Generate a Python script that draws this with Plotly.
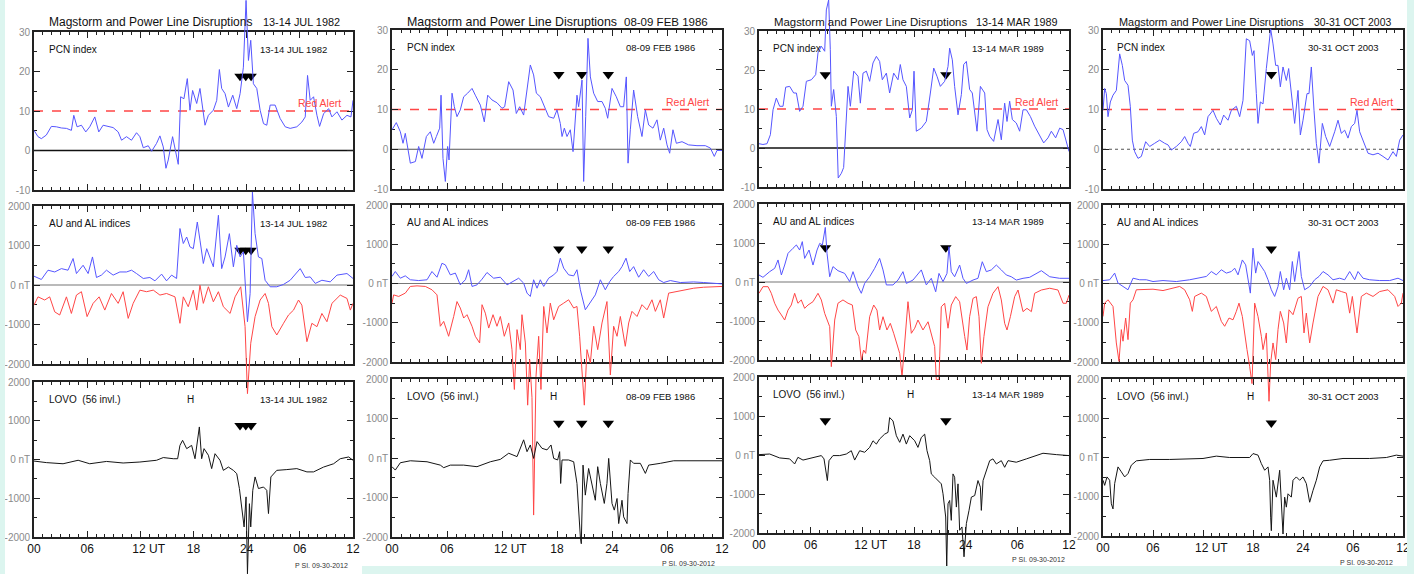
import plotly.graph_objects as go

W, H = 1414, 574

# ---------------- data (hours from 00 UT of first day, value) ----------------
dates = ["13-14 JUL 1982", "08-09 FEB 1986", "13-14 MAR 1989", "30-31 OCT 2003"]

x_tickvals = [0, 6, 12, 18, 24, 30, 36]
x_ticktext = ["00", "06", "\u00a0\u00a0\u00a0\u00a0\u00a012 UT", "18", "24", "06", "12"]
pcn_tickvals = [-10, 0, 10, 20, 30]
pcn_ticktext = ["-10", "0", "10", "20", "30"]
nt_tickvals = [-2000, -1000, 0, 1000, 2000]
nt_ticktext = ["-2000", "-1000", "0 nT", "1000", "2000"]
red_alert_level = 10

events_1982 = [23.25, 23.9, 24.5]
events_1986 = [18.2, 20.7, 23.6]
events_1989 = [7.7, 21.7]
events_2003 = [20.2]

pcn_1982 = [(0,5.1),(0.45,3.5),(0.83,3.0),(1.39,3.9),(1.96,6.1),(2.53,6.0),(3.09,5.7),(3.66,5.6),(4.22,5.1),(4.49,8.9),
            (4.86,6.0),(5.35,6.4),(5.84,4.7),(6.29,6.0),(6.86,8.5),(7.31,4.7),(7.8,6.4),(8.37,6.0),(8.93,5.8),(9.5,4.7),
            (9.88,2.6),(10.44,3.5),(11.0,2.6),(11.57,4.5),(11.95,3.5),(12.33,0.7),(12.89,1.2),(13.27,-0.2),(13.83,1.8),(14.21,3.7),
            (14.59,0.9),(14.89,-4.5),(15.15,-2.4),(15.64,3.5),(15.91,0.9),(16.28,-3.5),(16.55,13.6),(16.92,13.1),(17.3,18.2),(17.6,10.2),
            (17.9,15.2),(18.36,11.9),(18.73,15.7),(19.03,10.2),(19.3,6.4),(19.68,8.9),(20.24,10.2),(20.62,12.7),(20.92,20.5),(21.18,15.7),
            (21.56,14.4),(21.94,11.0),(22.43,14.0),(22.88,10.6),(23.26,14.4),(23.63,21.1),(23.93,38),(24.2,22.8),(24.46,27.9),(24.76,16.9),
            (25.14,15.7),(25.52,10.2),(25.9,6.8),(26.27,6.4),(26.65,11.5),(27.21,11.5),(27.78,8.1),(28.35,6.0),(28.91,5.6),(29.66,6.0),
            (30.23,7.2),(30.61,8.5),(30.87,19.0),(31.17,12.7),(31.55,13.6),(31.93,8.9),(32.23,6.1),(32.68,9.3),(33.25,10.6),(33.62,8.5),
            (34.19,9.8),(34.75,7.7),(35.32,8.9),(35.77,8.5),(36,12.7)]

au_1982 = [(0,223),(0.83,140),(1.58,375),(2.34,330),(3.09,415),(3.84,375),(4.41,670),(4.79,290),(5.54,500),(6.11,290),
           (6.6,710),(7.05,190),(7.61,250),(8.18,375),(8.93,250),(9.69,330),(10.44,330),(11.01,375),(11.57,290),(12.33,165),
           (13.08,190),(13.65,105),(14.4,275),(14.96,105),(15.53,250),(16.09,165),(16.47,1430),(16.85,1050),(17.23,1215),(17.6,965),
           (17.98,920),(18.43,1595),(18.73,1135),(19.11,545),(19.49,920),(19.86,710),(20.24,460),(20.81,1765),(21.18,415),(21.56,710),
           (22.05,1300),(22.5,460),(22.88,1005),(23.26,710),(23.63,840),(24.09,-930),(24.39,-215),(24.65,2350),(24.95,1300),(25.33,710),
           (25.71,670),(26.08,120),(26.65,-45),(27.4,-45),(28.16,15),(28.91,120),(30.04,415),(30.61,190),(31.17,205),(31.74,40),
           (32.49,120),(33.43,80),(34.19,250),(35.32,290),(36,165)]

al_1982 = [(0,-510),(0.45,-300),(1.21,-380),(1.77,-300),(2.34,-680),(2.9,-760),(3.66,-300),(4.22,-720),(4.79,-255),(5.35,-170),
           (5.99,-800),(6.67,-465),(7.35,-300),(7.99,-635),(8.74,-215),(9.5,-465),(10.06,-170),(10.63,-845),(11.19,-465),(11.95,-130),
           (12.7,-170),(13.46,-130),(14.21,-255),(14.96,-215),(15.91,-300),(16.47,-970),(16.85,-300),(17.41,-550),(17.98,-130),(18.36,-635),
           (18.73,-5),(19.11,-465),(19.68,-45),(20.24,-425),(20.81,-170),(21.37,-550),(22.13,-720),(22.69,-300),(23.33,-45),(23.82,-1055),
           (24.09,-2750),(24.46,-1475),(24.95,-800),(25.52,-380),(26.08,-215),(26.46,-465),(26.84,-1055),(27.4,-1265),(28.16,-970),(28.72,-760),
           (29.29,-635),(29.85,-380),(30.23,-510),(30.8,-1435),(31.36,-970),(31.93,-1055),(32.49,-720),(33.06,-930),(33.62,-465),(34.56,-255),
           (35.32,-340),(35.7,-635),(36,-465)]

lovo_1982 = [(0,-40),(1.39,-80),(3.28,-110),(4.98,-20),(6.29,-110),(8.18,-50),(10.06,-90),(11.95,-65),(13.83,-20),(14.59,50),
             (15.72,20),(16.21,20),(16.47,365),(16.77,495),(17.23,280),(17.79,365),(18.17,20),(18.43,540),(18.66,840),(18.92,20),
             (19.19,280),(19.68,110),(20.05,-235),(20.43,150),(20.99,-20),(21.37,-280),(21.94,-195),(22.5,-280),(22.88,-365),(23.18,-750),
             (23.45,-1225),(23.71,-1740),(23.93,-965),(24.09,-2950),(24.31,-1140),(24.46,-1740),(24.69,-795),(24.95,-450),(25.33,-750),(25.9,-710),
             (26.27,-795),(26.46,-1395),(26.73,-450),(27.4,-280),(28.53,-260),(29.66,-235),(30.8,-320),(31.55,-320),(32.68,-195),(33.81,-110),
             (34.56,20),(35.51,65),(36,-20)]

pcn_1986 = [(0,4.9),(0.47,6.7),(0.91,4.4),(1.2,1.5),(1.45,4.0),(2.0,-3.5),(2.55,-3.1),(2.91,0.7),(3.27,-2.3),(3.75,3.2),
            (4.18,4.4),(4.55,1.5),(4.84,3.2),(5.2,5.3),(5.35,13.6),(5.56,-2.3),(5.82,-8.1),(6.07,0.7),(6.22,-2.7),(6.55,14.1),
            (6.8,10.7),(7.09,8.2),(7.45,9.9),(7.82,13.2),(8.25,14.1),(8.73,15.3),(9.09,13.6),(9.64,11.1),(10.07,6.9),(10.44,13.6),
            (10.91,12.4),(11.45,11.7),(12.0,10.3),(12.29,10.7),(12.73,17.0),(13.2,14.9),(13.56,9.0),(13.93,10.7),(14.36,8.6),(14.73,14.9),
            (15.09,21.2),(15.45,18.7),(15.75,14.1),(16.18,13.2),(16.62,10.7),(17.09,8.2),(17.64,7.8),(18.0,9.9),(18.36,6.5),(18.55,3.2),
            (18.8,5.3),(19.09,3.2),(19.45,4.9),(19.75,-0.6),(20.18,13.6),(20.36,10.7),(20.73,17.4),(20.91,-8.1),(21.13,8.2),(21.38,27.9),
            (21.64,18.2),(22.0,14.1),(22.44,12.0),(22.91,12.0),(23.27,10.3),(23.53,7.8),(24.0,15.3),(24.47,13.2),(24.91,10.7),(25.27,10.7),
            (25.56,18.2),(25.75,-3.5),(26.0,4.9),(26.36,14.9),(26.8,8.2),(27.27,3.2),(27.64,9.9),(28.0,6.1),(28.47,5.3),(28.91,7.4),
            (29.27,2.3),(29.64,5.3),(30.0,1.1),(30.29,-1.0),(30.65,4.9),(31.02,1.5),(31.64,1.9),(32.36,1.1),(33.27,0.9),(34.18,0.9),
            (34.73,0.3),(35.16,-1.8),(35.45,-0.3),(36,-0.3)]

au_1986 = [(0,180),(0.36,305),(0.91,135),(1.45,195),(2.0,95),(2.91,75),(3.82,95),(4.36,305),(4.91,160),(5.45,515),
           (5.82,475),(6.36,220),(6.91,265),(7.45,-35),(8.0,95),(8.36,350),(8.73,-75),(9.27,-35),(9.82,110),(10.36,280),
           (11.09,135),(11.82,160),(12.55,-35),(13.27,50),(13.82,135),(14.36,10),(14.73,-245),(15.09,-330),(15.45,95),(15.82,-120),
           (16.18,95),(16.55,-75),(17.09,135),(17.64,220),(18.0,305),(18.36,645),(18.73,390),(19.27,220),(19.82,195),(20.18,350),
           (20.55,-160),(21.09,-670),(21.64,-460),(22.18,-290),(22.73,95),(23.27,-160),(23.75,50),(24.18,180),(24.73,305),(25.09,430),
           (25.53,645),(25.93,305),(26.36,430),(26.91,160),(27.45,350),(28.0,180),(28.55,305),(29.09,95),(29.64,25),(30.36,75),
           (31.45,25),(32.91,40),(34.0,25),(35.09,0),(36,-10)]

al_1986 = [(0,-500),(0.18,-290),(0.73,-330),(1.45,-245),(2.0,-75),(2.73,-60),(3.64,-75),(4.36,-160),(4.91,-290),(5.27,-1090),
           (5.64,-965),(6.18,-1345),(6.73,-840),(7.09,-460),(7.45,-625),(7.82,-880),(8.18,-795),(8.73,-1090),(9.09,-1345),(9.56,-1515),
           (9.82,-540),(10.18,-755),(10.55,-1135),(11.02,-795),(11.45,-1090),(11.82,-840),(12.25,-1345),(12.73,-1005),(13.09,-1685),(13.35,-2700),
           (13.64,-1175),(14.0,-1685),(14.18,-795),(14.55,-1515),(14.8,-3100),(15.02,-1940),(15.27,-2900),(15.45,-5900),(15.71,-2365),(16.0,-1345),
           (16.25,-2700),(16.55,-585),(16.91,-1260),(17.27,-500),(17.64,-925),(18.18,-585),(18.73,-500),(19.27,-415),(19.82,-625),(20.18,-585),
           (20.47,-1345),(20.73,-2235),(20.98,-3100),(21.27,-1685),(21.64,-2025),(22.0,-1090),(22.44,-1685),(22.91,-1005),(23.45,-460),(23.82,-2330),
           (24.18,-1090),(24.55,-1345),(24.91,-840),(25.45,-1600),(25.82,-1005),(26.18,-710),(26.73,-840),(27.27,-540),(27.82,-670),(28.36,-415),
           (28.73,-710),(29.27,-415),(29.64,-880),(30.18,-245),(31.09,-205),(32.0,-160),(32.91,-120),(34.0,-95),(35.09,-75),(36,-75)]

lovo_1986 = [(0,-220),(0.36,-305),(0.91,-120),(2.0,-70),(3.82,-95),(5.27,-180),(5.64,-245),(6.36,-180),(7.82,-180),(9.27,-220),
             (10.73,-95),(11.82,-35),(12.73,120),(13.64,35),(14.36,460),(14.73,160),(15.09,330),(15.45,-10),(15.82,415),(16.36,245),
             (16.91,205),(17.35,330),(17.64,-10),(18.07,-50),(18.29,160),(18.4,-645),(18.55,-50),(19.27,-50),(19.82,-95),(20.18,-645),
             (20.55,-2000),(20.65,-2170),(20.84,-180),(21.09,-940),(21.45,-265),(21.82,-685),(22.18,-1070),(22.44,-220),(22.73,-645),(23.16,-1150),
             (23.45,-645),(23.64,-10),(23.82,-475),(24.0,-1150),(24.25,-1320),(24.55,-1025),(24.73,-1660),(25.09,-1070),(25.27,-1490),(25.64,-1660),
             (25.75,-900),(26.0,-50),(26.36,-135),(27.09,-135),(27.64,-390),(28.0,-180),(29.27,-135),(30.73,-70),(32.18,-70),(34.0,-70),
             (36,-70)]

pcn_1989 = [(0,1.1),(0.46,0.9),(0.93,1.1),(1.32,3.4),(1.63,9.8),(2.01,12.8),(2.4,10.7),(2.79,10.7),(3.1,15.6),(3.56,15.8),
            (4.03,14.1),(4.34,14.1),(4.72,9.4),(5.11,10.7),(5.5,17.1),(6.08,17.5),(6.58,18.8),(6.85,24.4),(7.24,26.1),(7.63,24.8),
            (7.82,35.4),(8.09,38),(8.28,25.2),(8.4,10.7),(8.67,15.0),(8.98,8.1),(9.2,-7.7),(9.56,-6.5),(9.83,-5.0),(10.07,5.6),
            (10.34,15.8),(10.61,10.7),(11.0,19.7),(11.5,18.4),(11.77,11.5),(12.08,19.2),(12.47,19.7),(12.85,17.1),(13.24,21.8),(13.63,23.5),
            (14.01,22.2),(14.32,17.5),(14.79,19.2),(15.17,14.1),(15.64,19.2),(16.14,17.5),(16.41,21.4),(16.72,17.5),(17.11,15.8),(17.5,7.7),
            (17.81,9.8),(18.0,19.7),(18.27,4.3),(18.85,5.1),(19.43,6.8),(19.9,14.1),(20.29,20.5),(20.67,18.4),(21.06,15.8),(21.56,17.1),
            (21.95,20.9),(22.14,25.6),(22.45,22.6),(22.72,15.8),(23.11,8.5),(23.5,13.7),(23.77,21.4),(24.08,22.2),(24.46,15.0),(24.77,14.1),
            (25.05,8.5),(25.32,4.3),(25.71,15.8),(26.21,14.1),(26.48,4.7),(26.79,3.0),(27.25,1.7),(27.76,7.3),(28.14,2.1),(28.53,11.5),
            (28.8,6.8),(29.11,12.0),(29.42,7.3),(29.88,6.4),(30.27,4.3),(30.66,9.8),(31.05,9.8),(31.51,8.1),(32.01,5.6),(32.59,3.0),
            (33.06,1.3),(33.56,2.6),(33.95,4.3),(34.45,2.6),(34.92,5.1),(35.31,4.7),(35.69,1.3),(36,-0.9)]

au_1989 = [(0,180),(0.46,120),(1.24,265),(1.82,350),(2.21,565),(2.6,180),(2.98,435),(3.37,735),(3.95,865),(4.34,950),
           (4.72,820),(5.03,1035),(5.3,605),(5.81,820),(6.27,435),(6.74,820),(7.05,990),(7.36,950),(7.7,1400),(7.9,735),
           (8.21,135),(8.59,395),(9.17,290),(9.95,220),(10.53,10),(10.92,265),(11.5,-120),(11.88,-290),(12.27,-35),(12.85,135),
           (13.43,350),(14.01,605),(14.4,310),(14.79,-75),(15.56,-75),(16.14,50),(16.72,265),(17.11,-35),(17.88,50),(18.85,310),
           (19.43,-75),(20.01,95),(20.52,-250),(20.9,220),(21.37,10),(21.83,220),(22.06,905),(22.33,265),(22.72,135),(23.3,435),
           (23.69,95),(24.08,-35),(24.85,50),(25.43,95),(25.93,520),(26.4,265),(26.98,310),(27.56,435),(28.14,310),(28.72,180),
           (29.3,135),(29.88,50),(30.66,95),(31.43,120),(32.79,290),(33.76,135),(34.92,95),(36,95)]

al_1989 = [(0,-290),(0.46,-120),(1.05,-120),(1.43,-290),(1.82,-545),(2.21,-720),(2.6,-845),(2.98,-975),(3.37,-720),(3.75,-590),
           (4.14,-290),(4.52,-545),(4.91,-460),(5.3,-675),(5.69,-590),(6.27,-505),(6.85,-290),(7.24,-460),(7.63,-805),(7.9,-975),
           (8.21,-1145),(8.4,-2170),(8.79,-975),(9.17,-545),(9.75,-460),(10.34,-545),(10.84,-590),(11.23,-1230),(11.6,-1400),(11.88,-2000),
           (12.15,-1745),(12.39,-1830),(12.85,-890),(13.32,-590),(13.7,-720),(14.01,-1230),(14.4,-890),(14.86,-1230),(15.25,-1060),(15.64,-1315),
           (15.95,-1570),(16.34,-1830),(16.61,-2430),(16.92,-1655),(17.3,-505),(17.69,-1315),(18.08,-1185),(18.46,-975),(19.04,-1230),(19.63,-1020),
           (20.01,-1315),(20.4,-1655),(20.59,-2500),(20.9,-2500),(21.17,-635),(21.56,-545),(21.95,-1185),(22.33,-590),(22.84,-375),(23.3,-505),
           (23.89,-1400),(24.15,-1745),(24.46,-890),(24.85,-420),(25.24,-375),(25.55,-890),(25.82,-2085),(26.12,-1400),(26.59,-635),(27.17,-290),
           (27.76,-120),(28.14,-460),(28.53,-1060),(28.8,-1230),(29.19,-890),(29.69,-375),(30.08,-205),(30.66,-760),(31.12,-675),(31.63,-760),
           (32.01,-290),(32.79,-205),(33.76,-160),(34.72,-205),(35.31,-545),(35.69,-545),(36,-335)]

lovo_1989 = [(0,10),(1.24,25),(2.4,-75),(3.56,-100),(4.14,-230),(4.52,-60),(5.11,-130),(6.27,-75),(7.24,-15),(7.55,-100),
             (7.74,-440),(7.94,-655),(8.13,-145),(8.59,-15),(9.37,-15),(10.14,25),(10.72,110),(11.11,-130),(11.69,110),(12.27,70),
             (12.85,195),(13.24,365),(13.63,280),(14.01,410),(14.59,535),(14.98,580),(15.17,960),(15.56,875),(15.95,495),(16.34,325),
             (16.72,535),(17.11,280),(17.5,495),(18.08,365),(18.46,195),(18.85,450),(19.24,535),(19.51,110),(19.82,-145),(20.01,-485),
             (20.4,-570),(20.78,-655),(21.17,-740),(21.37,-995),(21.68,-1590),(21.8,-2870),(21.95,-1250),(22.14,-1165),(22.33,-1675),(22.53,-485),
             (22.72,-570),(22.92,-1335),(23.11,-740),(23.3,-1930),(23.57,-1845),(23.81,-2610),(24.08,-1760),(24.39,-1420),(24.66,-1080),(25.05,-1040),
             (25.43,-655),(25.71,-825),(25.82,-1420),(26.02,-655),(26.4,-400),(26.79,-145),(27.17,-100),(27.56,-230),(28.14,-145),(28.53,-315),
             (28.92,-145),(29.88,-185),(31.05,-100),(32.21,-15),(32.98,45),(34.53,10),(36,-15)]

pcn_2003 = [(0,9.8),(0.2,15.3),(0.4,14.0),(0.6,8.2),(0.88,11.9),(1.2,13.6),(1.6,14.8),(2.0,24.0),(2.32,21.1),(2.6,17.3),
            (3.0,16.1),(3.28,10.7),(3.52,2.3),(3.8,-0.6),(4.2,-2.3),(4.6,-1.8),(5.12,1.9),(5.6,0.7),(6.2,1.5),(6.8,2.3),
            (7.4,1.5),(7.8,1.1),(8.2,-0.2),(8.8,0.7),(9.4,1.9),(9.8,3.2),(10.2,1.5),(10.48,0.7),(10.88,4.0),(11.4,4.4),
            (11.8,5.7),(12.2,3.6),(12.6,8.2),(13.2,9.8),(13.6,7.8),(14.08,6.1),(14.48,8.6),(15.0,7.3),(15.4,9.8),(16.0,10.8),
            (16.4,8.2),(16.8,12.3),(17.2,27.8),(17.6,27.3),(17.92,23.6),(18.12,24.8),(18.4,14.0),(18.6,6.5),(18.88,11.9),(19.2,11.4),
            (19.6,20.3),(19.92,27.3),(20.12,30.3),(20.4,26.5),(20.72,21.1),(21.0,21.1),(21.28,15.7),(21.6,20.7),(22.0,17.3),(22.28,20.3),
            (22.6,14.0),(23.0,6.5),(23.4,14.8),(23.68,3.6),(24.0,7.3),(24.48,14.0),(24.72,14.0),(25.0,20.7),(25.32,9.8),(25.6,1.5),
            (25.92,-3.5),(26.32,6.5),(26.72,3.2),(27.2,0.7),(27.8,4.4),(28.2,7.3),(28.6,4.0),(29.0,4.8),(29.4,2.8),(29.8,5.7),
            (30.2,6.5),(30.48,9.8),(30.8,4.4),(31.2,2.3),(31.8,-1.0),(32.4,-1.4),(33.0,-1.0),(33.6,-1.8),(34.2,-2.7),(34.8,-0.6),
            (35.2,-1.8),(35.6,2.3),(36,3.6)]

au_2003 = [(0,75),(0.8,95),(1.4,265),(1.8,10),(2.4,-75),(3.0,-160),(3.6,135),(4.4,95),(5.2,95),(6.0,50),
           (7.2,75),(8.8,50),(10.4,95),(11.6,135),(12.4,180),(13.0,305),(13.6,220),(14.2,350),(14.8,265),(15.4,305),
           (15.8,390),(16.2,220),(16.72,600),(17.12,475),(17.4,95),(17.68,-245),(18.0,900),(18.32,265),(18.6,560),(19.0,430),
           (19.4,305),(19.8,95),(20.2,-160),(20.6,-330),(21.0,-75),(21.28,305),(21.68,-160),(22.0,135),(22.4,-160),(22.72,560),
           (23.0,50),(23.52,815),(23.8,180),(24.2,-160),(24.8,-75),(25.4,95),(25.92,180),(26.4,305),(27.0,220),(27.6,95),
           (28.4,135),(29.0,95),(29.6,305),(30.2,95),(30.6,305),(31.2,135),(32.0,95),(33.2,75),(34.4,75),(35.4,135),
           (36,75)]

al_2003 = [(0,-840),(0.2,-500),(0.6,-415),(1.2,-585),(1.6,-1515),(1.92,-1985),(2.2,-1175),(2.4,-1470),(2.72,-880),(3.0,-1430),
           (3.28,-500),(3.6,-415),(4.0,-160),(4.8,-160),(6.0,-145),(7.2,-180),(8.4,-120),(9.2,-75),(9.8,-160),(10.4,-415),
           (10.72,-710),(11.0,-330),(11.8,-245),(12.4,-330),(13.0,-710),(13.6,-585),(14.2,-965),(14.6,-1090),(15.12,-880),(15.6,-925),
           (16.0,-710),(16.32,-500),(16.72,-840),(17.0,-1345),(17.28,-1685),(17.6,-2110),(17.88,-2550),(18.2,-500),(18.6,-840),(19.0,-1345),
           (19.2,-1685),(19.6,-1260),(19.92,-3000),(20.12,-2025),(20.4,-1515),(20.72,-1940),(21.0,-1175),(21.28,-710),(21.68,-1005),(22.0,-1515),
           (22.32,-670),(22.8,-795),(23.4,-375),(23.8,-330),(24.12,-1260),(24.4,-755),(24.8,-1515),(25.2,-1005),(25.8,-330),(26.4,-75),
           (27.0,-160),(27.6,-500),(28.0,-160),(28.6,-205),(29.2,-245),(29.6,-755),(29.92,-330),(30.48,-1260),(31.0,-330),(31.6,-245),
           (32.4,-330),(33.2,-205),(34.2,-160),(35.0,-330),(35.4,-585),(35.8,-500),(36,-245)]

lovo_2003 = [(0,-580),(0.2,-710),(0.48,-495),(0.8,-580),(1.0,-1180),(1.2,-1310),(1.4,-665),(1.8,-240),(2.2,-365),(2.6,-495),
             (3.0,-410),(3.4,-195),(4.0,-85),(5.6,-50),(8.0,-50),(10.4,-25),(12.0,-25),(13.6,35),(15.2,0),(16.8,0),
             (17.6,0),(18.0,100),(18.6,60),(19.0,-155),(19.4,-325),(19.8,-240),(20.0,-580),(20.12,-1520),(20.2,-1865),(20.4,-580),
             (20.8,-1010),(21.2,-325),(21.4,-1180),(21.6,-1950),(21.8,-1010),(22.0,-1265),(22.2,-925),(22.6,-1010),(22.8,-580),(23.2,-495),
             (23.6,-580),(24.0,-495),(24.4,-665),(24.8,-1140),(25.2,-840),(25.6,-580),(26.0,-240),(26.4,-85),(27.2,-70),(28.8,-25),
             (30.0,-25),(32.0,-25),(34.0,0),(35.2,60),(36,35)]

# ---------------- layout geometry (pixels) ----------------
col_x = [(34, 353), (392, 722), (759, 1069), (1103, 1403)]
row_y = [[(32, 190), (206, 364), (382, 537)],
         [(30, 189), (205, 362), (379, 537)],
         [(31, 187), (204, 360), (377, 533)],
         [(30, 189), (205, 362), (379, 536)]]
title_left = [47, 405, 772, 1117]
title_right = [342, 710, 1060, 1393]
title_size = [12.0, 12.4, 11.4, 10.9]
title_date_size = [10.9, 11.5, 10.8, 10.4]
footer_x = [293, 660, 1010, 1338]
footer_y = [565, 563, 559, 562]
zero_style = [("solid", "#111", 1.6), ("solid", "#555", 1.0), ("solid", "#111", 1.6), ("dot", "#555", 1.2)]
tri_y = [18.8, 880, 880]

columns = [
    (pcn_1982, au_1982, al_1982, lovo_1982, events_1982),
    (pcn_1986, au_1986, al_1986, lovo_1986, events_1986),
    (pcn_1989, au_1989, al_1989, lovo_1989, events_1989),
    (pcn_2003, au_2003, al_2003, lovo_2003, events_2003),
]

BLUE = "#5656ff"
RED = "#ff4646"
BLACK = "#151515"
FONT = "Liberation Sans, Arial, sans-serif"
FRAME = "#222222"

fig = go.Figure()
layout = dict(width=W, height=H, margin=dict(l=0, r=0, t=0, b=0, autoexpand=False),
              paper_bgcolor="white", plot_bgcolor="rgba(0,0,0,0)", showlegend=False)
shapes, annotations = [], []


def nm(kind, n):
    return kind if n == 1 else f"{kind}{n}"


def unzip(pairs):
    return [p[0] for p in pairs], [p[1] for p in pairs]


for c, (pcn, au, al, lovo, ev) in enumerate(columns):
    x0, x1 = col_x[c]
    panels = [
        ("PCN index", [-10, 30], pcn_tickvals, pcn_ticktext, 5, [(pcn, BLUE)]),
        ("AU and AL indices", [-2000, 2000], nt_tickvals, nt_ticktext, 500, [(au, BLUE), (al, RED)]),
        ("LOVO  (56 invl.)", [-2000, 2000], nt_tickvals, nt_ticktext, 500, [(lovo, BLACK)]),
    ]
    for r, (label, rng, tv, tt, minor_dt, series) in enumerate(panels):
        k = c * 3 + r + 1
        kd = 12 + k
        top, bot = row_y[c][r]
        d0, d1 = 1 - bot / H, 1 - top / H
        layout[nm("xaxis", k)] = dict(
            domain=[x0 / W, x1 / W], range=[0, 36], anchor=nm("y", k), automargin=False,
            tickmode="array", tickvals=x_tickvals, ticktext=x_ticktext,
            showticklabels=(r == 2), ticks="inside", ticklen=6, tickwidth=1.3, tickcolor=FRAME,
            minor=dict(dtick=1, ticklen=3, ticks="inside", tickcolor=FRAME, tickwidth=1),
            showline=True, linecolor=FRAME, linewidth=1.6, mirror="ticks",
            showgrid=False, zeroline=False,
            tickfont=dict(family=FONT, size=12, color="#111"))
        layout[nm("yaxis", k)] = dict(
            domain=[d0, d1], range=rng, anchor=nm("x", k), automargin=False,
            tickmode="array", tickvals=tv, ticktext=tt,
            ticks="inside", ticklen=6, tickwidth=1.3, tickcolor=FRAME,
            minor=dict(dtick=minor_dt, ticklen=3, ticks="inside", tickcolor=FRAME, tickwidth=1),
            showline=True, linecolor=FRAME, linewidth=1.6, mirror="ticks",
            showgrid=False, zeroline=False,
            tickfont=dict(family=FONT, size=10, color="#8a8a8a"))
        # invisible data axis spanning full column height so curves can overflow the frame
        s = (rng[1] - rng[0]) / (d1 - d0)
        layout[nm("yaxis", kd)] = dict(domain=[0, 1], range=[rng[0] - d0 * s, rng[1] + (1 - d1) * s],
                                       anchor=nm("x", k), visible=False, showgrid=False, zeroline=False,
                                       automargin=False)
        # reference lines
        if r == 0:
            dsh, col, lw = zero_style[c]
            shapes.append(dict(type="line", xref=nm("x", k), yref=nm("y", k), x0=0, x1=36, y0=0, y1=0,
                               line=dict(color=col, width=lw, dash=dsh), layer="below"))
            shapes.append(dict(type="line", xref=nm("x", k), yref=nm("y", k), x0=0, x1=36,
                               y0=red_alert_level, y1=red_alert_level,
                               line=dict(color=RED, width=1.6, dash="dash"), layer="below"))
            annotations.append(dict(x=32.2, y=red_alert_level + 1.9, xref=nm("x", k), yref=nm("y", k),
                                    text="Red Alert", showarrow=False,
                                    font=dict(family=FONT, size=10.5, color=RED)))
        elif r == 1:
            shapes.append(dict(type="line", xref=nm("x", k), yref=nm("y", k), x0=0, x1=36, y0=0, y1=0,
                               line=dict(color="#777", width=1.2), layer="below"))
        for pairs, colr in series:
            t, v = unzip(pairs)
            fig.add_trace(go.Scatter(x=t, y=v, mode="lines", xaxis=nm("x", k), yaxis=nm("y", kd),
                                     line=dict(color=colr, width=1.0), hoverinfo="skip"))
        fig.add_trace(go.Scatter(x=ev, y=[tri_y[r]] * len(ev), mode="markers",
                                 xaxis=nm("x", k), yaxis=nm("y", k),
                                 marker=dict(symbol="triangle-down", size=10, color="black"),
                                 hoverinfo="skip"))
        # panel labels
        annotations.append(dict(x=0.04, y=0.89, xref=nm("x", k) + " domain", yref=nm("y", k) + " domain",
                                text=label, showarrow=False, xanchor="left", yanchor="middle",
                                font=dict(family=FONT, size=10, color="#111")))
        annotations.append(dict(x=0.925, y=0.89, xref=nm("x", k) + " domain", yref=nm("y", k) + " domain",
                                text=dates[c], showarrow=False, xanchor="right", yanchor="middle",
                                font=dict(family=FONT, size=9.5, color="#111")))
        if r == 2:
            annotations.append(dict(x=0.49, y=0.89, xref=nm("x", k) + " domain", yref=nm("y", k) + " domain",
                                    text="H", showarrow=False, xanchor="center", yanchor="middle",
                                    font=dict(family=FONT, size=10, color="#111")))
    # column title
    annotations.append(dict(x=title_left[c] / W, y=1 - 22 / H, xref="paper", yref="paper",
                            text="Magstorm and Power Line Disruptions", showarrow=False,
                            xanchor="left", yanchor="middle",
                            font=dict(family=FONT, size=title_size[c], color="#111")))
    annotations.append(dict(x=title_right[c] / W, y=1 - 22 / H, xref="paper", yref="paper",
                            text=dates[c], showarrow=False,
                            xanchor="right", yanchor="middle",
                            font=dict(family=FONT, size=title_date_size[c], color="#111")))
    annotations.append(dict(x=footer_x[c] / W, y=1 - footer_y[c] / H, xref="paper", yref="paper",
                            text="P SI. 09-30-2012", showarrow=False,
                            xanchor="left", yanchor="middle", font=dict(family=FONT, size=7, color="#333")))

# mint page background strips
MINT = "#dcf5ef"
for (a, b, cc, d) in [(0, 5, 0, H), (362, W, 566, H), (1407, W, 0, H)]:
    shapes.append(dict(type="rect", xref="paper", yref="paper", x0=a / W, x1=b / W,
                       y0=1 - d / H, y1=1 - cc / H, fillcolor=MINT, line=dict(width=0), layer="above"))

layout["shapes"] = shapes
layout["annotations"] = annotations
fig.update_layout(**layout)
fig.write_html("out.html", config={"displayModeBar": False},
               post_script="document.body.style.margin='0px';")
